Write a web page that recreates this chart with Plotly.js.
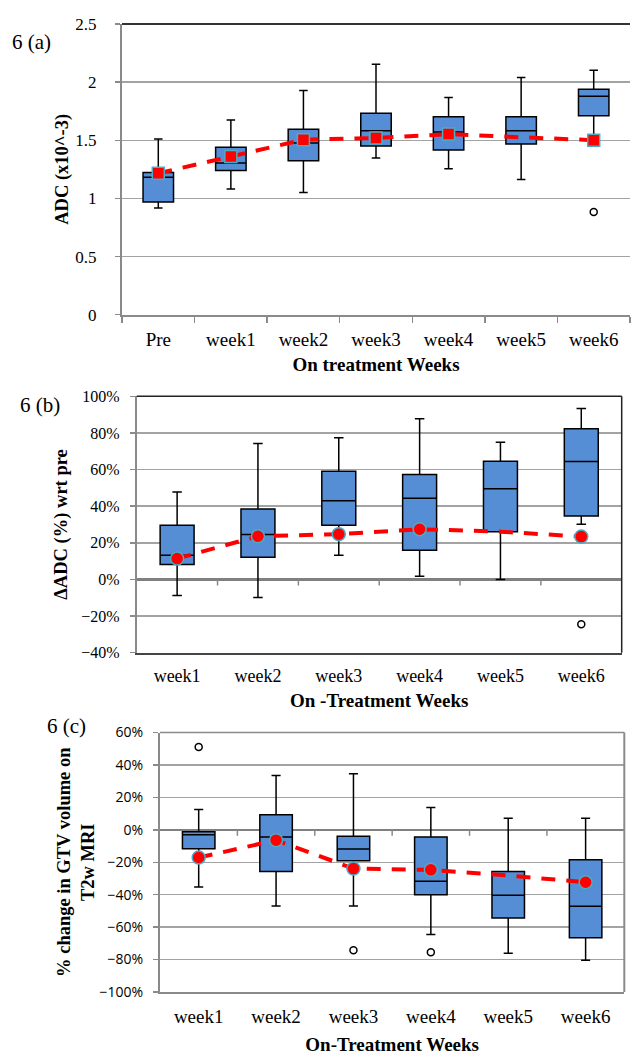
<!DOCTYPE html>
<html><head><meta charset="utf-8">
<script src="https://cdn.plot.ly/plotly-3.0.1.min.js"></script>
<style>html,body{margin:0;padding:0;background:#fff}#chart{width:631px;height:1055px}</style>
</head><body><div id="chart"></div>
<script>
// ---- Panel (a): ADC (x10^-3) ----
const catsA = ['Pre','week1','week2','week3','week4','week5','week6'];
const adcUpper  = [1.51, 1.675, 1.928, 2.153, 1.867, 2.04, 2.102];
const adcQ3     = [1.222, 1.44, 1.595, 1.732, 1.703, 1.703, 1.938];
const adcMedian = [1.183, 1.305, 1.477, 1.583, 1.572, 1.583, 1.878];
const adcQ1     = [0.97, 1.24, 1.325, 1.451, 1.417, 1.468, 1.712];
const adcLower  = [0.918, 1.082, 1.05, 1.348, 1.255, 1.162, 1.502];
const adcMean   = [1.216, 1.36, 1.505, 1.52, 1.553, 1.526, 1.501];
const adcMeanShown = [1, 1, 1, 1, 1, 0, 1];
const adcOutX = ['week6'];
const adcOutY = [0.884];

// ---- Panel (b): ΔADC (%) wrt pre ----
const catsB = ['week1','week2','week3','week4','week5','week6'];
const dUpper  = [47.7, 74.2, 77.4, 87.8, 74.9, 93.4];
const dQ3     = [29.6, 38.4, 59.1, 57.3, 64.5, 82.3];
const dMedian = [13.2, 24.5, 43.0, 44.4, 49.5, 64.4];
const dQ1     = [8.2, 12.1, 29.6, 16.0, 26.1, 34.6];
const dLower  = [-8.7, -9.8, 13.2, 1.8, 0, 30.1];
const dMean   = [11.4, 23.6, 24.7, 27.4, 26.1, 23.4];
const dMeanShown = [1, 1, 1, 1, 0, 1];
const dOutX = ['week6'];
const dOutY = [-24.5];

// ---- Panel (c): % change in GTV volume on T2w MRI ----
const catsC = ['week1','week2','week3','week4','week5','week6'];
const vUpper  = [12.5, 33.5, 34.5, 13.8, 7.2, 7.2];
const vQ3     = [-1.2, 9.3, -3.9, -4.5, -25.7, -18.5];
const vMedian = [-3.1, -4.5, -11.9, -31.7, -40.3, -47.1];
const vQ1     = [-11.7, -25.7, -19.1, -40.1, -54.3, -66.6];
const vLower  = [-35.2, -46.9, -46.9, -64.6, -76.1, -80.4];
const vMean   = [-17.1, -6.4, -23.9, -24.7, -28.2, -32.3];
const vMeanShown = [1, 1, 1, 1, 0, 1];
const vOutX = ['week1','week3','week4'];
const vOutY = [51.0, -74.2, -75.5];

const SERIF = 'Liberation Serif';
const SANS = 'Open Sans';
const BOXFILL = '#558ED5';
const GRID = '#a3a3a3';
const AXGRAY = '#8a8a8a';

function boxTrace(xa, ya, cats, lo, q1, med, q3, hi) {
  return {type:'box', xaxis:xa, yaxis:ya, x:cats, q1:q1, median:med, q3:q3,
    lowerfence:lo, upperfence:hi, boxpoints:false, width:0.42, whiskerwidth:0.28,
    fillcolor:BOXFILL, line:{color:'#000', width:1.5}, hoverinfo:'skip', showlegend:false};
}
function meanTrace(xa, ya, cats, vals, shown, symbol, size) {
  return {type:'scatter', mode:'lines+markers', xaxis:xa, yaxis:ya, x:cats, y:vals,
    line:{color:'#ff0000', width:4, dash:'14px,11px'},
    marker:{symbol:symbol, size:size, color:'#ff0000', opacity:shown,
            line:{color:'#4bacc6', width:1.5}}, hoverinfo:'skip', showlegend:false};
}
function outTrace(xa, ya, xs, ys) {
  return {type:'scatter', mode:'markers', xaxis:xa, yaxis:ya, x:xs, y:ys,
    marker:{symbol:'circle-open', size:7, color:'#000', line:{color:'#000', width:1.5}},
    hoverinfo:'skip', showlegend:false};
}

const data = [
  boxTrace('x','y',catsA,adcLower,adcQ1,adcMedian,adcQ3,adcUpper),
  outTrace('x','y',adcOutX,adcOutY),
  meanTrace('x','y',catsA,adcMean,adcMeanShown,'square',12),
  boxTrace('x2','y2',catsB,dLower,dQ1,dMedian,dQ3,dUpper),
  outTrace('x2','y2',dOutX,dOutY),
  meanTrace('x2','y2',catsB,dMean,dMeanShown,'circle',13),
  boxTrace('x3','y3',catsC,vLower,vQ1,vMedian,vQ3,vUpper),
  outTrace('x3','y3',vOutX,vOutY),
  meanTrace('x3','y3',catsC,vMean,vMeanShown,'circle',13)
];

function xAxis(domain, anchor, n, titleText, tickSize, standoff, labelOff, extra) {
  return Object.assign({domain:domain, anchor:anchor, type:'category', range:[-0.5, n-0.5],
    showgrid:false, zeroline:false, showline:true, linecolor:AXGRAY, linewidth:2.5,
    ticks:'', ticklabelstandoff:labelOff, tickfont:{family:SERIF, size:tickSize, color:'#000'}, fixedrange:true,
    title:{text:titleText, font:{family:SERIF, size:19, color:'#000', weight:'bold'}, standoff:standoff}}, extra||{});
}
function yAxis(domain, anchor, range, dtick, titleText, tickFont, titleStandoff, extra) {
  const t = {text:titleText, font:{family:SERIF, size:18.5, color:'#000', weight:'bold'}};
  if (titleStandoff !== null) t.standoff = titleStandoff;
  return Object.assign({domain:domain, anchor:anchor, range:range, dtick:dtick, tick0:0,
    showgrid:true, gridcolor:GRID, gridwidth:1.5, zeroline:false,
    showline:true, linecolor:AXGRAY, linewidth:2, ticks:'outside', ticklen:5, tickwidth:1.5,
    tickcolor:AXGRAY, tickfont:tickFont, fixedrange:true, title:t}, extra||{});
}

const domA = [122/631, 630/631], domAy = [1-314.7/1055, 1-24/1055];
const domB = [136.7/631, 621.7/631], domBy = [1-652.7/1055, 1-396.3/1055];
const domC = [160/631, 624.3/631], domCy = [1-992/1055, 1-732.5/1055];

const shapes = [
  {type:'line', xref:'x domain', yref:'y domain', x0:0, x1:1, y0:1, y1:1, line:{color:'#333', width:2}},
  {type:'line', xref:'x2 domain', yref:'y2 domain', x0:0, x1:1, y0:1, y1:1, line:{color:'#222', width:1.5}},
  {type:'line', xref:'x2 domain', yref:'y2 domain', x0:1, x1:1, y0:0, y1:1, line:{color:'#222', width:1.5}},
  {type:'line', xref:'x3 domain', yref:'y3 domain', x0:0, x1:1, y0:1, y1:1, line:{color:AXGRAY, width:1.5}},
  {type:'line', xref:'x3 domain', yref:'y3 domain', x0:1, x1:1, y0:0, y1:1, line:{color:AXGRAY, width:2}}
];
// small tick marks on the 0% line at category boundaries (panels b and c)
for (let i = 0; i < catsB.length - 1; i++) {
  shapes.push({type:'line', xref:'x2', yref:'y2', x0:i+0.5, x1:i+0.5, ysizemode:'pixel', yanchor:0, y0:0, y1:-6, line:{color:AXGRAY, width:1.5}});
}
for (let i = 0; i < catsC.length - 1; i++) {
  shapes.push({type:'line', xref:'x3', yref:'y3', x0:i+0.5, x1:i+0.5, ysizemode:'pixel', yanchor:0, y0:0, y1:-6, line:{color:AXGRAY, width:1.5}});
}

const layout = {
  width:631, height:1055, margin:{l:0, r:0, t:0, b:0}, paper_bgcolor:'#fff', plot_bgcolor:'#fff',
  showlegend:false, font:{family:SERIF, color:'#000'},
  xaxis: xAxis(domA, 'y', catsA.length, 'On treatment Weeks', 19, 9, 6,
    {ticks:'outside', tickson:'boundaries', ticklen:6, tickwidth:1.5, tickcolor:AXGRAY}),
  yaxis: yAxis(domAy, 'x', [0, 2.5], 0.5, 'ADC (x10^-3)', {family:SERIF, size:17, color:'#000'}, null,
    {ticklabelstandoff:15}),
  xaxis2: xAxis(domB, 'y2', catsB.length, 'On -Treatment Weeks', 18, 8, 6, {linecolor:'#444', linewidth:2}),
  yaxis2: yAxis(domBy, 'x2', [-40, 100], 20, 'ΔADC (%) wrt pre', {family:SERIF, size:16, color:'#000'}, 9,
    {ticksuffix:'%', zeroline:true, zerolinecolor:'#808080', zerolinewidth:2.5, ticklabelstandoff:7}),
  xaxis3: xAxis(domC, 'y3', catsC.length, 'On-Treatment Weeks', 19, 23, 6, {linewidth:2}),
  yaxis3: yAxis(domCy, 'x3', [-100, 60], 20, '% change in GTV volume on<br>T2w MRI', {family:SANS, size:14, color:'#000'}, 0,
    {ticksuffix:'%', zeroline:true, zerolinecolor:'#808080', zerolinewidth:2, ticklabelstandoff:7}),
  shapes: shapes,
  annotations: [
    {text:'6 (a)', xref:'paper', yref:'paper', x:10/631, y:1-41.7/1055, xanchor:'left', yanchor:'middle', showarrow:false, font:{family:SERIF, size:21, color:'#000'}},
    {text:'6 (b)', xref:'paper', yref:'paper', x:18/631, y:1-405/1055, xanchor:'left', yanchor:'middle', showarrow:false, font:{family:SERIF, size:21, color:'#000'}},
    {text:'6 (c)', xref:'paper', yref:'paper', x:45/631, y:1-726/1055, xanchor:'left', yanchor:'middle', showarrow:false, font:{family:SERIF, size:21, color:'#000'}}
  ]
};

Plotly.newPlot('chart', data, layout, {staticPlot:true, displayModeBar:false});
</script>
</body></html>
